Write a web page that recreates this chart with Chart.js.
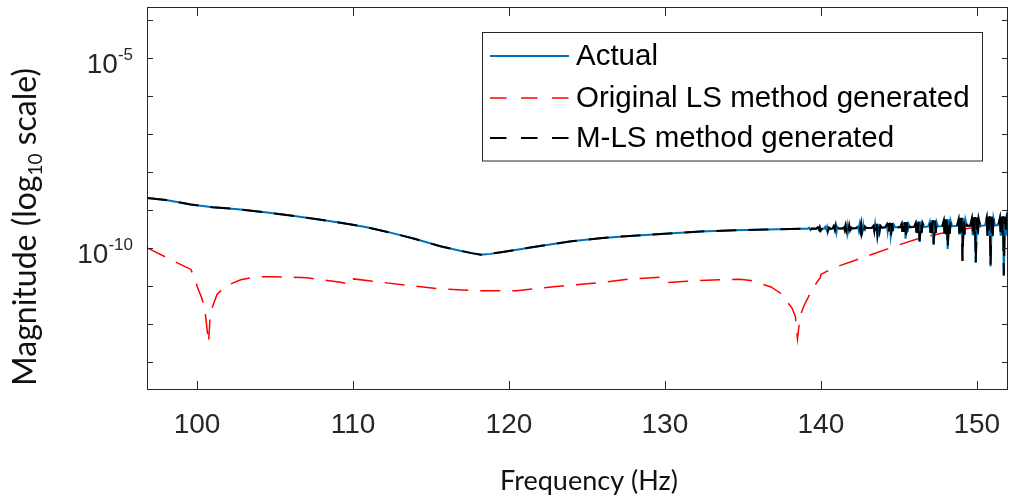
<!DOCTYPE html>
<html>
<head>
<meta charset="utf-8">
<script src="https://cdn.jsdelivr.net/npm/chart.js@4.4.1/dist/chart.umd.min.js"></script>
<style>
  html, body { margin: 0; padding: 0; background: #ffffff; }
  canvas { display: block; }
</style>
</head>
<body>
<canvas id="grafico" width="1009" height="502"></canvas>
<script>
// Frecuencias (Hz) y magnitudes, en log10
const frecActual = [
  96.8, 98.0, 99.6, 101.0, 102.8, 104.5, 106.0, 107.6, 109.2, 110.8, 112.4, 114.0, 115.6,
  116.8, 117.6, 118.2, 118.8, 119.6, 120.5, 122.0, 124.0, 126.0, 128.0, 130.0, 132.3, 134.5, 136.5, 138.7,
  139.15, 139.25, 139.33, 139.42,
  139.7, 139.8, 139.88, 139.93, 139.98, 140.08,
  140.2, 140.28, 140.35, 140.4, 140.45, 140.52, 140.62,
  140.75, 140.83, 140.9, 140.95, 141.0, 141.06, 141.15,
  141.38, 141.48, 141.53, 141.58, 141.63, 141.68, 141.73, 141.78, 141.82, 141.87, 141.92, 142.02,
  142.28, 142.38, 142.43, 142.48, 142.53, 142.58, 142.63, 142.68, 142.72, 142.77, 142.82, 142.92,
  143.28, 143.38, 143.43, 143.48, 143.53, 143.58, 143.63, 143.68, 143.72, 143.77, 143.82, 143.92,
  144.13, 144.23, 144.28, 144.33, 144.38, 144.43, 144.48, 144.53, 144.57, 144.62, 144.67, 144.77,
  145.08, 145.18, 145.23, 145.28, 145.33, 145.38, 145.43, 145.48, 145.52, 145.57, 145.62, 145.72,
  145.98, 146.08, 146.13, 146.18, 146.23, 146.28, 146.33, 146.38, 146.42, 146.47, 146.52, 146.62,
  146.88, 146.98, 147.03, 147.08, 147.13, 147.18, 147.23, 147.28, 147.32, 147.37, 147.42, 147.52,
  147.78, 147.88, 147.93, 147.98, 148.03, 148.08, 148.13, 148.18, 148.22, 148.27, 148.32, 148.42,
  148.73, 148.83, 148.88, 148.93, 148.98, 149.03, 149.08, 149.13, 149.17, 149.22, 149.27, 149.37,
  149.58, 149.68, 149.73, 149.78, 149.83, 149.88, 149.93, 149.98, 150.02, 150.07, 150.12, 150.22,
  150.53, 150.63, 150.68, 150.73, 150.78, 150.83, 150.88, 150.93, 150.97, 151.02, 151.07, 151.17,
  151.38, 151.48, 151.53, 151.58, 151.63, 151.68, 151.73, 151.78, 151.82, 151.87, 151.92, 152.0
];
const logActual = [
  -8.69, -8.74, -8.86, -8.93, -8.99, -9.07, -9.15, -9.24, -9.34, -9.45, -9.60, -9.77, -9.96,
  -10.07, -10.14, -10.18, -10.16, -10.11, -10.05, -9.95, -9.83, -9.74, -9.68, -9.63, -9.57, -9.54, -9.52, -9.50,
  -9.50, -9.47, -9.53, -9.49,
  -9.50, -9.46, -9.52, -9.46, -9.55, -9.50,
  -9.50, -9.45, -9.52, -9.45, -9.56, -9.47, -9.50,
  -9.49, -9.43, -9.53, -9.43, -9.59, -9.45, -9.49,
  -9.49, -9.46, -9.53, -9.42, -9.53, -9.41, -9.61, -9.53, -9.42, -9.53, -9.46, -9.49,
  -9.48, -9.44, -9.54, -9.40, -9.54, -9.39, -9.62, -9.54, -9.40, -9.54, -9.44, -9.48,
  -9.47, -9.42, -9.55, -9.38, -9.55, -9.37, -9.68, -9.55, -9.38, -9.55, -9.42, -9.47,
  -9.46, -9.39, -9.56, -9.35, -9.56, -9.34, -9.70, -9.56, -9.35, -9.56, -9.39, -9.46,
  -9.46, -9.37, -9.58, -9.33, -9.58, -9.32, -9.76, -9.58, -9.33, -9.58, -9.37, -9.46,
  -9.45, -9.35, -9.60, -9.31, -9.60, -9.30, -9.83, -9.60, -9.31, -9.60, -9.35, -9.45,
  -9.44, -9.32, -9.61, -9.28, -9.61, -9.27, -9.91, -9.61, -9.28, -9.61, -9.32, -9.44,
  -9.43, -9.29, -9.63, -9.25, -9.63, -9.24, -10.03, -9.63, -9.25, -9.63, -9.29, -9.43,
  -9.42, -9.26, -9.65, -9.22, -9.65, -9.21, -10.35, -9.65, -9.22, -9.65, -9.26, -9.42,
  -9.42, -9.24, -9.66, -9.20, -9.66, -9.19, -10.40, -9.66, -9.20, -9.66, -9.24, -9.42,
  -9.41, -9.22, -9.68, -9.18, -9.68, -9.17, -10.49, -9.68, -9.18, -9.68, -9.22, -9.41,
  -9.40, -9.22, -9.68, -9.18, -9.68, -9.17, -10.73, -9.68, -9.18, -9.68, -9.22, -9.35
];
// El metodo M-LS se superpone a la curva real
const frecMLS = frecActual.slice();
const logMLS = logActual.slice();

const frecLS = [
  96.8, 98.5, 99.6, 99.9, 100.0, 100.3, 100.5, 100.74, 100.85, 101.28, 101.81, 102.8, 103.85, 104.9,
  107.05, 109.2, 109.94, 110.04, 111.3, 113.46, 115.6, 118.0, 120.5, 123.0, 125.85, 127.8, 129.8, 130.0,
  131.4, 133.5, 134.8, 135.5, 136.8, 137.4, 138.14, 138.36, 138.5, 138.67, 138.9, 139.5, 139.96, 140.0,
  140.8, 142.95, 145.1, 146.4, 148.2, 150.0, 152.0
];
const logLS = [
  -10.00, -10.35, -10.57, -10.84, -11.01, -11.32, -11.63, -12.50, -11.71, -11.23, -11.01, -10.84, -10.76, -10.76,
  -10.79, -10.91, -10.97, -10.82, -10.88, -10.99, -11.08, -11.13, -11.13, -11.02, -10.92, -10.82, -10.77, -10.92,
  -10.88, -10.84, -10.83, -10.86, -11.03, -11.19, -11.58, -11.80, -12.40, -11.80, -11.54, -11.05, -10.79, -10.70,
  -10.53, -10.22, -9.91, -9.74, -9.58, -9.45, -9.38
];

const nombresSeries = ['Actual', 'Original LS method generated', 'M-LS method generated'];

// Ejes
const xTicks = [100, 110, 120, 130, 140, 150];
const yTicks = [1e-4, 1e-5, 1e-6, 1e-7, 1e-8, 1e-9, 1e-10, 1e-11, 1e-12, 1e-13];
const yEtiquetasValor = [1e-5, 1e-10];
const yEtiquetasExp = ['-5', '-10'];
const xMin = 96.79, xMax = 152;
const yMinExp = -13.745, yMaxExp = -3.658;

function aPuntos(frec, logs) {
  return frec.map((f, i) => ({ x: f, y: Math.pow(10, logs[i]) }));
}

const colorEje = '#262626';
const fuenteNum = '"Liberation Sans", Arial, sans-serif';
const fuenteTitulo = 'Lato, "Open Sans", sans-serif';

// Dibuja caja, ticks hacia dentro, etiquetas, titulos y leyenda al estilo MATLAB
const pluginMarco = {
  id: 'marcoMatlab',
  afterDraw(chart) {
    const { ctx, chartArea: a, scales } = chart;
    const sx = scales.x, sy = scales.y;
    ctx.save();
    ctx.strokeStyle = colorEje;
    ctx.lineWidth = 1;
    ctx.setLineDash([]);
    ctx.strokeRect(a.left + 0.5, a.top + 0.5, a.right - a.left - 1, a.bottom - a.top - 1);

    ctx.beginPath();
    xTicks.forEach(v => {
      const px = Math.round(sx.getPixelForValue(v)) + 0.5;
      ctx.moveTo(px, a.bottom); ctx.lineTo(px, a.bottom - 9);
      ctx.moveTo(px, a.top); ctx.lineTo(px, a.top + 9);
    });
    yTicks.forEach(v => {
      const py = Math.round(sy.getPixelForValue(v)) + 0.5;
      ctx.moveTo(a.left, py); ctx.lineTo(a.left + 6, py);
      ctx.moveTo(a.right, py); ctx.lineTo(a.right - 6, py);
    });
    ctx.stroke();

    // etiquetas eje x
    ctx.fillStyle = colorEje;
    ctx.font = '28px ' + fuenteNum;
    ctx.textAlign = 'center';
    ctx.textBaseline = 'alphabetic';
    xTicks.forEach(v => {
      ctx.fillText(String(v), sx.getPixelForValue(v), 433);
    });

    // etiquetas eje y (10 con exponente)
    const bordeDer = a.left - 14;
    yEtiquetasValor.forEach((v, i) => {
      const py = sy.getPixelForValue(v);
      ctx.font = '17px ' + fuenteNum;
      const wExp = ctx.measureText(yEtiquetasExp[i]).width;
      ctx.textAlign = 'left';
      ctx.fillText(yEtiquetasExp[i], bordeDer - wExp, py + 2);
      ctx.font = '28px ' + fuenteNum;
      ctx.textAlign = 'right';
      ctx.fillText('10', bordeDer - wExp, py + 15);
    });

    // titulo eje x
    ctx.fillStyle = '#111111';
    ctx.font = '27px ' + fuenteTitulo;
    ctx.textAlign = 'center';
    ctx.fillText('Frequency (Hz)', 589, 490);

    // titulo eje y con subindice
    ctx.save();
    ctx.translate(36, 227);
    ctx.rotate(-Math.PI / 2);
    const t1 = 'Magnitude (log', t2 = '10', t3 = ' scale)';
    ctx.font = '32px ' + fuenteTitulo;
    const w1 = ctx.measureText(t1).width, w3 = ctx.measureText(t3).width;
    ctx.font = '19px ' + fuenteTitulo;
    const w2 = ctx.measureText(t2).width;
    let x0 = -(w1 + w2 + w3) / 2;
    ctx.textAlign = 'left';
    ctx.font = '32px ' + fuenteTitulo;
    ctx.fillText(t1, x0, 0);
    ctx.font = '19px ' + fuenteTitulo;
    ctx.fillText(t2, x0 + w1, 6);
    ctx.font = '32px ' + fuenteTitulo;
    ctx.fillText(t3, x0 + w1 + w2, 0);
    ctx.restore();

    // leyenda
    const lx = 482.5, ly = 32.5, lw = 500, lh = 128.5;
    ctx.fillStyle = '#ffffff';
    ctx.fillRect(lx, ly, lw, lh);
    ctx.strokeStyle = colorEje;
    ctx.lineWidth = 1;
    ctx.strokeRect(lx, ly, lw, lh);
    const filas = [56, 98, 138];
    ctx.font = '29.5px ' + fuenteNum;
    ctx.textAlign = 'left';
    ctx.textBaseline = 'middle';
    chart.data.datasets.forEach((ds, i) => {
      ctx.strokeStyle = ds.borderColor;
      ctx.lineWidth = ds.borderWidth;
      ctx.setLineDash(ds.borderDash && ds.borderDash.length ? [16.5, 14.5] : []);
      ctx.beginPath();
      ctx.moveTo(490, filas[i]);
      ctx.lineTo(569, filas[i]);
      ctx.stroke();
      ctx.fillStyle = '#000000';
      ctx.fillText(ds.label, 576, filas[i] + 1);
    });
    ctx.restore();
  }
};

const chart = new Chart(document.getElementById('grafico').getContext('2d'), {
  type: 'line',
  data: {
    datasets: [
      {
        label: nombresSeries[0],
        data: aPuntos(frecActual, logActual),
        borderColor: '#0072BD',
        borderWidth: 2,
        pointRadius: 0,
        order: 2
      },
      {
        label: nombresSeries[1],
        data: aPuntos(frecLS, logLS),
        borderColor: '#FF0000',
        borderWidth: 1.5,
        borderDash: [20, 12],
        pointRadius: 0,
        order: 3
      },
      {
        label: nombresSeries[2],
        data: aPuntos(frecMLS, logMLS),
        borderColor: '#000000',
        borderWidth: 2,
        borderDash: [20, 12],
        pointRadius: 0,
        order: 1
      }
    ]
  },
  options: {
    responsive: false,
    animation: false,
    layout: { padding: { left: 0, right: 1, top: 7, bottom: 0 } },
    plugins: { legend: { display: false }, tooltip: { enabled: false } },
    scales: {
      x: {
        type: 'linear',
        min: xMin,
        max: xMax,
        grid: { display: false },
        border: { display: false },
        ticks: { display: false },
        afterFit: s => { s.height = 112; }
      },
      y: {
        type: 'logarithmic',
        min: Math.pow(10, yMinExp),
        max: Math.pow(10, yMaxExp),
        grid: { display: false },
        border: { display: false },
        ticks: { display: false },
        afterFit: s => { s.width = 147; }
      }
    }
  },
  plugins: [pluginMarco]
});
</script>
</body>
</html>
